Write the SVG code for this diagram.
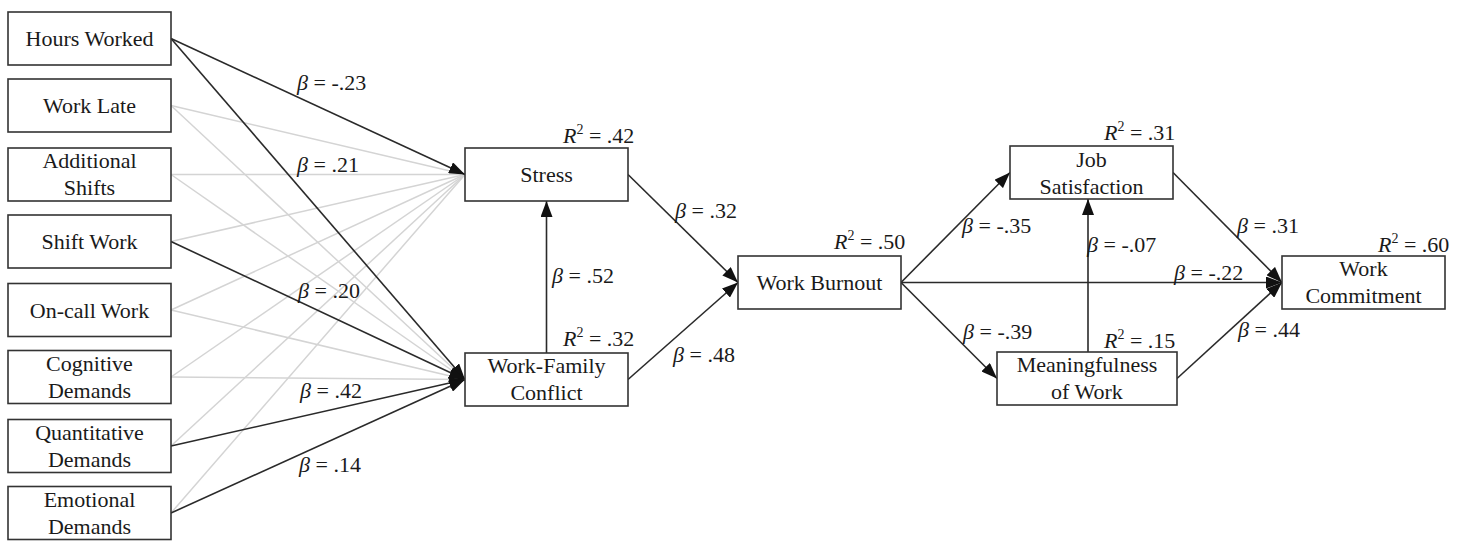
<svg xmlns="http://www.w3.org/2000/svg" width="1467" height="541" viewBox="0 0 1467 541">
<style>
.box{fill:#fff;stroke:#333;stroke-width:1.6}
.t{font-family:'Liberation Serif','Times New Roman',Times,'Nimbus Roman','Tinos','DejaVu Serif',serif;font-size:22px;fill:#1a1a1a;text-anchor:middle}
.lb{font-family:'Liberation Serif','Times New Roman',Times,'Nimbus Roman','Tinos','DejaVu Serif',serif;font-size:22px;fill:#1a1a1a}
.i{font-style:italic}
.dka{stroke:#2a2a2a;stroke-width:1.6;fill:none;marker-end:url(#ah)}
.gr{stroke:#d4d4d4;stroke-width:1.5;fill:none}
</style>
<defs>
<marker id="ah" markerUnits="userSpaceOnUse" markerWidth="16" markerHeight="12" viewBox="0 0 16 12" refX="16" refY="6" orient="auto">
<path d="M0,0 L16,6 L0,12 z" fill="#111"/>
</marker>
</defs>
<g id="connectors">
<line class="gr" x1="171" y1="105.5" x2="465" y2="174.5"/>
<line class="gr" x1="171" y1="174.5" x2="465" y2="174.5"/>
<line class="gr" x1="171" y1="241.5" x2="465" y2="174.5"/>
<line class="gr" x1="171" y1="310" x2="465" y2="174.5"/>
<line class="gr" x1="171" y1="377" x2="465" y2="174.5"/>
<line class="gr" x1="171" y1="446" x2="465" y2="174.5"/>
<line class="gr" x1="171" y1="513" x2="465" y2="174.5"/>
<line class="gr" x1="171" y1="105.5" x2="465" y2="379.5"/>
<line class="gr" x1="171" y1="174.5" x2="465" y2="379.5"/>
<line class="gr" x1="171" y1="310" x2="465" y2="379.5"/>
<line class="gr" x1="171" y1="377" x2="465" y2="379.5"/>
<line class="dka" x1="171" y1="38.5" x2="465" y2="174.5"/>
<line class="dka" x1="171" y1="38.5" x2="465" y2="379.5"/>
<line class="dka" x1="171" y1="241.5" x2="465" y2="379.5"/>
<line class="dka" x1="171" y1="446" x2="465" y2="379.5"/>
<line class="dka" x1="171" y1="513" x2="465" y2="379.5"/>
<line class="dka" x1="546.5" y1="353" x2="546.5" y2="201"/>
<line class="dka" x1="628" y1="174.5" x2="738" y2="282.5"/>
<line class="dka" x1="628" y1="379.5" x2="738" y2="282.5"/>
<line class="dka" x1="901" y1="282.5" x2="1010" y2="172.5"/>
<line class="dka" x1="901" y1="282.5" x2="997" y2="378.5"/>
<line class="dka" x1="901" y1="282.5" x2="1282" y2="282.5"/>
<line class="dka" x1="1088" y1="352" x2="1088" y2="199"/>
<line class="dka" x1="1173" y1="172.5" x2="1282" y2="282.5"/>
<line class="dka" x1="1177" y1="378.5" x2="1282" y2="282.5"/>
</g>
<g id="labels">
<text class="lb" x="297" y="90"><tspan class="i">β</tspan> = -.23</text>
<text class="lb" x="297" y="172"><tspan class="i">β</tspan> = .21</text>
<text class="lb" x="298" y="298"><tspan class="i">β</tspan> = .20</text>
<text class="lb" x="300" y="398"><tspan class="i">β</tspan> = .42</text>
<text class="lb" x="299" y="472"><tspan class="i">β</tspan> = .14</text>
<text class="lb" x="675" y="218"><tspan class="i">β</tspan> = .32</text>
<text class="lb" x="552" y="283"><tspan class="i">β</tspan> = .52</text>
<text class="lb" x="673" y="362"><tspan class="i">β</tspan> = .48</text>
<text class="lb" x="962" y="233"><tspan class="i">β</tspan> = -.35</text>
<text class="lb" x="1087" y="252"><tspan class="i">β</tspan> = -.07</text>
<text class="lb" x="963" y="339"><tspan class="i">β</tspan> = -.39</text>
<text class="lb" x="1237" y="233"><tspan class="i">β</tspan> = .31</text>
<text class="lb" x="1174" y="280"><tspan class="i">β</tspan> = -.22</text>
<text class="lb" x="1238" y="337"><tspan class="i">β</tspan> = .44</text>
<text class="lb" x="563" y="143"><tspan class="i">R</tspan><tspan font-size="14" dy="-9">2</tspan><tspan dy="9"> = .42</tspan></text>
<text class="lb" x="563" y="346"><tspan class="i">R</tspan><tspan font-size="14" dy="-9">2</tspan><tspan dy="9"> = .32</tspan></text>
<text class="lb" x="834" y="249"><tspan class="i">R</tspan><tspan font-size="14" dy="-9">2</tspan><tspan dy="9"> = .50</tspan></text>
<text class="lb" x="1104" y="140"><tspan class="i">R</tspan><tspan font-size="14" dy="-9">2</tspan><tspan dy="9"> = .31</tspan></text>
<text class="lb" x="1104" y="348"><tspan class="i">R</tspan><tspan font-size="14" dy="-9">2</tspan><tspan dy="9"> = .15</tspan></text>
<text class="lb" x="1378" y="252"><tspan class="i">R</tspan><tspan font-size="14" dy="-9">2</tspan><tspan dy="9"> = .60</tspan></text>
</g>
<g id="hours-worked"><rect class="box" x="8" y="12" width="163" height="53"/><text class="t" x="89.5" y="46">Hours Worked</text></g>
<g id="work-late"><rect class="box" x="8" y="79" width="163" height="53"/><text class="t" x="89.5" y="113">Work Late</text></g>
<g id="additional-shifts"><rect class="box" x="8" y="148" width="163" height="53"/><text class="t" x="89.5" y="168">Additional</text><text class="t" x="89.5" y="195">Shifts</text></g>
<g id="shift-work"><rect class="box" x="8" y="215" width="163" height="53"/><text class="t" x="89.5" y="249">Shift Work</text></g>
<g id="on-call-work"><rect class="box" x="8" y="283.5" width="163" height="53"/><text class="t" x="89.5" y="317.5">On-call Work</text></g>
<g id="cognitive-demands"><rect class="box" x="8" y="350.5" width="163" height="53"/><text class="t" x="89.5" y="370.5">Cognitive</text><text class="t" x="89.5" y="397.5">Demands</text></g>
<g id="quantitative-demands"><rect class="box" x="8" y="419.5" width="163" height="53"/><text class="t" x="89.5" y="439.5">Quantitative</text><text class="t" x="89.5" y="466.5">Demands</text></g>
<g id="emotional-demands"><rect class="box" x="8" y="486.5" width="163" height="53"/><text class="t" x="89.5" y="506.5">Emotional</text><text class="t" x="89.5" y="533.5">Demands</text></g>
<g id="stress"><rect class="box" x="465" y="148" width="163" height="53"/><text class="t" x="546.5" y="182">Stress</text></g>
<g id="work-family-conflict"><rect class="box" x="465" y="353" width="163" height="53"/><text class="t" x="546.5" y="373">Work-Family</text><text class="t" x="546.5" y="400">Conflict</text></g>
<g id="work-burnout"><rect class="box" x="738" y="256" width="163" height="53"/><text class="t" x="819.5" y="290">Work Burnout</text></g>
<g id="job-satisfaction"><rect class="box" x="1010" y="146" width="163" height="53"/><text class="t" x="1091.5" y="167">Job</text><text class="t" x="1091.5" y="194">Satisfaction</text></g>
<g id="meaningfulness-of-work"><rect class="box" x="997" y="352" width="180" height="53"/><text class="t" x="1087" y="372">Meaningfulness</text><text class="t" x="1087" y="399">of Work</text></g>
<g id="work-commitment"><rect class="box" x="1282" y="256" width="163" height="53"/><text class="t" x="1363.5" y="276">Work</text><text class="t" x="1363.5" y="303">Commitment</text></g>
</svg>
